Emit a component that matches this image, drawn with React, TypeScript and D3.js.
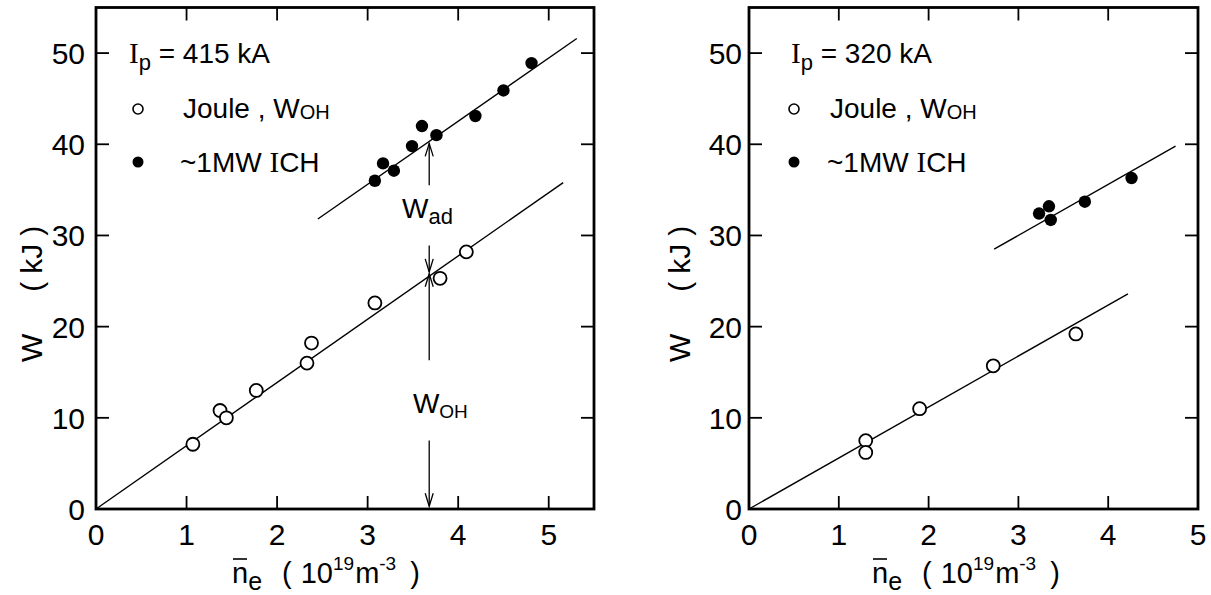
import React from "react";
import * as d3 from "d3";

// Stored energy W versus line-averaged density, Joule (OH) and ~1 MW ICH discharges.
const ticksX = [0, 1, 2, 3, 4, 5];
const ticksY = [0, 10, 20, 30, 40, 50];

// Ip = 415 kA
const jouleN415 = [1.07, 1.37, 1.44, 1.77, 2.33, 2.38, 3.08, 3.8, 4.09];
const jouleW415 = [7.1, 10.8, 10.0, 13.0, 16.0, 18.2, 22.6, 25.3, 28.2];
const ichN415 = [3.08, 3.17, 3.29, 3.49, 3.6, 3.76, 4.19, 4.5, 4.81];
const ichW415 = [36.0, 37.9, 37.1, 39.8, 42.0, 41.0, 43.1, 45.9, 48.9];
const jouleFitN415 = [0, 5.16];
const jouleFitW415 = [0, 35.8];
const ichFitN415 = [2.45, 5.31];
const ichFitW415 = [31.8, 51.6];

// Ip = 320 kA
const jouleN320 = [1.3, 1.3, 1.9, 2.72, 3.64];
const jouleW320 = [7.5, 6.2, 11.0, 15.7, 19.2];
const ichN320 = [3.23, 3.34, 3.36, 3.74, 4.26];
const ichW320 = [32.4, 33.2, 31.7, 33.7, 36.3];
const jouleFitN320 = [0, 4.22];
const jouleFitW320 = [0, 23.6];
const ichFitN320 = [2.73, 4.75];
const ichFitW320 = [28.5, 39.8];

// W_ad / W_OH construction at fixed density (415 kA panel)
const annN = 3.68;
const wadUp = [35.5, 40.1];
const wadDown = [28.9, 26.0];
const wohUp = [16.3, 25.8];
const wohDown = [7.5, 0.3];

const FONT = "'Liberation Sans', Arial, sans-serif";
const SERIF = "'Liberation Serif', 'DejaVu Serif', serif";

type PanelProps = {
  left: number;
  right: number;
  xMax: number;
  ip: string;
  jN: number[];
  jW: number[];
  iN: number[];
  iW: number[];
  jfN: number[];
  jfW: number[];
  ifN: number[];
  ifW: number[];
  yLabelGap: number;
  yTitleX: number;
  xTitleX: number;
  legendX: number;
  legendTextX: number;
  ipX: number;
  annotate?: boolean;
};

const TOP = 7.5;
const BOTTOM = 509;

function Arrow({ x, y0, y1 }: { x: number; y0: number; y1: number }) {
  const dir = y1 > y0 ? -1 : 1;
  return (
    <g stroke="#000" strokeWidth={1.3} fill="none">
      <line x1={x} y1={y0} x2={x} y2={y1} />
      <polyline points={`${x - 4},${y1 + dir * 13} ${x},${y1} ${x + 4},${y1 + dir * 13}`} />
    </g>
  );
}

function Panel(p: PanelProps) {
  const x = d3.scaleLinear().domain([0, p.xMax]).range([p.left, p.right]);
  const y = d3.scaleLinear().domain([0, 55]).range([BOTTOM, TOP]);
  const line = d3
    .line<[number, number]>()
    .x((d) => x(d[0]))
    .y((d) => y(d[1]));
  const pairs = (a: number[], b: number[]) => a.map((v, i) => [v, b[i]] as [number, number]);
  const tickLen = 13;

  return (
    <g fontFamily={FONT} fill="#000">
      {/* fitted lines */}
      <path d={line(pairs(p.jfN, p.jfW)) || ""} stroke="#000" strokeWidth={1.4} fill="none" />
      <path d={line(pairs(p.ifN, p.ifW)) || ""} stroke="#000" strokeWidth={1.4} fill="none" />

      {/* annotation arrows */}
      {p.annotate && (
        <g>
          <Arrow x={x(annN)} y0={y(wadUp[0])} y1={y(wadUp[1])} />
          <Arrow x={x(annN)} y0={y(wadDown[0])} y1={y(wadDown[1])} />
          <Arrow x={x(annN)} y0={y(wohUp[0])} y1={y(wohUp[1])} />
          <Arrow x={x(annN)} y0={y(wohDown[0])} y1={y(wohDown[1])} />
          <text x={x(3.38)} y={y(31.9)} fontSize={28}>
            W<tspan fontSize={22} dy={6}>ad</tspan>
          </text>
          <text x={x(3.5)} y={y(10.5)} fontSize={28}>
            W<tspan fontSize={19} dy={5}>OH</tspan>
          </text>
        </g>
      )}

      {/* data points */}
      {pairs(p.jN, p.jW).map((d, i) => (
        <circle key={"j" + i} cx={x(d[0])} cy={y(d[1])} r={6.5} fill="#fff" stroke="#000" strokeWidth={1.8} />
      ))}
      {pairs(p.iN, p.iW).map((d, i) => (
        <circle key={"i" + i} cx={x(d[0])} cy={y(d[1])} r={6.2} fill="#000" />
      ))}

      {/* frame */}
      <rect x={p.left} y={TOP} width={p.right - p.left} height={BOTTOM - TOP} fill="none" stroke="#000" strokeWidth={2.8} />

      {/* ticks, pointing inward on all four sides */}
      <g stroke="#000" strokeWidth={1.8}>
        {ticksX.filter((t) => t > 0 && t < p.xMax).map((t) => (
          <g key={"tx" + t}>
            <line x1={x(t)} x2={x(t)} y1={BOTTOM} y2={BOTTOM - tickLen} />
            <line x1={x(t)} x2={x(t)} y1={TOP} y2={TOP + tickLen} />
          </g>
        ))}
        {ticksY.filter((t) => t > 0).map((t) => (
          <g key={"ty" + t}>
            <line x1={p.left} x2={p.left + tickLen} y1={y(t)} y2={y(t)} />
            <line x1={p.right} x2={p.right - tickLen} y1={y(t)} y2={y(t)} />
          </g>
        ))}
      </g>

      {/* tick labels */}
      {ticksX.map((t) => (
        <text key={"lx" + t} x={x(t)} y={545} fontSize={30} textAnchor="middle">
          {t}
        </text>
      ))}
      {ticksY.map((t) => (
        <text key={"ly" + t} x={p.left - p.yLabelGap} y={y(t) + 11} fontSize={30} textAnchor="end">
          {t}
        </text>
      ))}

      {/* axis titles */}
      <text transform={`translate(${p.yTitleX},362) rotate(-90)`} fontSize={30}>
        W
        <tspan dx={42}>(</tspan>
        <tspan dx={8}>kJ</tspan>
        <tspan dx={8}>)</tspan>
      </text>
      <g>
        <line x1={p.xTitleX + 1} x2={p.xTitleX + 15} y1={559} y2={559} stroke="#000" strokeWidth={1.6} />
        <text x={p.xTitleX} y={583} fontSize={29}>
          n
          <tspan fontSize={25} dy={7}>e</tspan>
          <tspan dx={20} dy={-7}>(</tspan>
          <tspan dx={9}>10</tspan>
          <tspan fontSize={19} dy={-13}>19</tspan>
          <tspan dx={1} dy={13}>m</tspan>
          <tspan fontSize={19} dy={-13}>-3</tspan>
          <tspan dx={14} dy={13}>)</tspan>
        </text>
      </g>

      {/* legend block */}
      <text x={p.ipX} y={63} fontSize={28}>
        <tspan fontFamily={SERIF} fontSize={29}>I</tspan>
        <tspan fontSize={22} dy={7}>p</tspan>
        <tspan dy={-7}> = {p.ip} kA</tspan>
      </text>
      <circle cx={p.legendX} cy={109} r={5} fill="#fff" stroke="#000" strokeWidth={1.6} />
      <text x={p.legendTextX} y={118} fontSize={28}>
        Joule , W<tspan fontSize={20} dy={1}>OH</tspan>
      </text>
      <circle cx={p.legendX} cy={162} r={5.5} fill="#000" />
      <text x={p.legendTextX - 3} y={172} fontSize={28}>
        ~1MW <tspan fontFamily={SERIF} fontSize={29}>I</tspan>CH
      </text>
    </g>
  );
}

export default function App() {
  return (
    <svg
      width={1211}
      height={595}
      viewBox="0 0 1211 595"
      style={{ position: "absolute", left: 0, top: 0, display: "block", background: "#fff" }}
    >
      <rect width={1211} height={595} fill="#fff" />
      <Panel
        left={96}
        right={594}
        xMax={5.5}
        ip="415"
        jN={jouleN415}
        jW={jouleW415}
        iN={ichN415}
        iW={ichW415}
        jfN={jouleFitN415}
        jfW={jouleFitW415}
        ifN={ichFitN415}
        ifW={ichFitW415}
        yLabelGap={11}
        yTitleX={42}
        xTitleX={232}
        legendX={138}
        legendTextX={183}
        ipX={129}
        annotate
      />
      <Panel
        left={749}
        right={1198}
        xMax={5}
        ip="320"
        jN={jouleN320}
        jW={jouleW320}
        iN={ichN320}
        iW={ichW320}
        jfN={jouleFitN320}
        jfW={jouleFitW320}
        ifN={ichFitN320}
        ifW={ichFitW320}
        yLabelGap={7}
        yTitleX={690}
        xTitleX={872}
        legendX={794}
        legendTextX={830}
        ipX={791}
      />
    </svg>
  );
}
